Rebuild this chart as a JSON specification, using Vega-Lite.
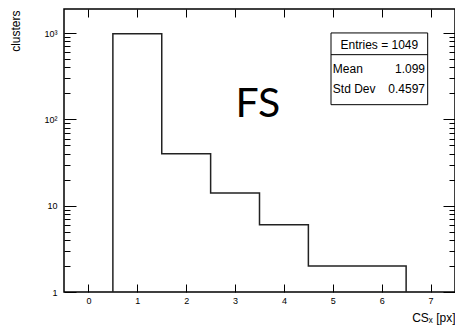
{
  "$schema": "https://vega.github.io/schema/vega-lite/v6.json",
  "width": 391,
  "height": 283,
  "autosize": "none",
  "padding": {"left": 64, "top": 9, "right": 0, "bottom": 39},
  "background": "white",
  "config": {
    "view": {"stroke": "black", "strokeWidth": 1.5},
    "font": "Liberation Sans",
    "axis": {"domain": false, "grid": false, "tickColor": "black", "tickWidth": 1, "labelColor": "black", "titleColor": "black", "labelFont": "Liberation Sans", "titleFont": "Liberation Sans", "titleFontWeight": "normal"}
  },
  "datasets": {
    "hist": [
      {"k": 0, "edge": 0.5, "count": 1},
      {"k": 1, "edge": 0.5, "count": 985},
      {"k": 2, "edge": 1.5, "count": 40},
      {"k": 3, "edge": 2.5, "count": 14},
      {"k": 4, "edge": 3.5, "count": 6},
      {"k": 5, "edge": 4.5, "count": 2},
      {"k": 6, "edge": 5.5, "count": 2},
      {"k": 7, "edge": 6.5, "count": 1}
    ],
    "stats": [{"entries": "Entries = 1049", "mean": "1.099", "stddev": "0.4597", "label": "FS"}]
  },
  "layer": [
    {
      "data": {"name": "hist"},
      "mark": {"type": "line", "interpolate": "step-after", "color": "#222", "strokeWidth": 1.5},
      "encoding": {
        "x": {"field": "edge", "type": "quantitative",
          "scale": {"domain": [-0.5, 7.5], "nice": false, "zero": false},
          "axis": {"orient": "bottom", "values": [0, 1, 2, 3, 4, 5, 6, 7], "ticks": false, "labelFontSize": 9, "labelPadding": 4,
            "title": "CSₓ [px]", "titleFontSize": 12, "titleAlign": "right", "titleX": 391, "titleY": 29, "titleBaseline": "alphabetic", "titleAnchor": "end"}},
        "y": {"field": "count", "type": "quantitative",
          "scale": {"type": "log", "domain": [1, 1900], "nice": false},
          "axis": {"orient": "left",
            "values": [1, 10, 100, 1000],
            "tickSize": -12,
            "labelExpr": "datum.value == 1000 ? '10³' : datum.value == 100 ? '10²' : datum.value == 10 ? '10' : datum.value == 1 ? '1' : ''",
            "labelFontSize": 9, "labelPadding": 19, "labelOverlap": false,
            "title": "clusters", "titleFontSize": 12, "titleAngle": -90, "titleAlign": "right", "titleBaseline": "middle", "titleX": -49, "titleY": 1}},
        "order": {"field": "k"}
      }
    },
    {
      "data": {"name": "stats"},
      "mark": {"type": "rect", "fill": "white", "stroke": "black", "strokeWidth": 1},
      "encoding": {
        "x": {"datum": 4.963, "type": "quantitative",
          "axis": {"orient": "top", "values": [0, 1, 2, 3, 4, 5, 6, 7], "tickSize": -8, "labels": false, "title": null}},
        "x2": {"datum": 6.941},
        "y": {"datum": 1003, "type": "quantitative",
          "axis": {"orient": "right",
            "values": [1, 10, 100, 1000],
            "tickSize": -12,
            "labels": false, "title": null}},
        "y2": {"datum": 148}
      }
    },
    {
      "data": {"name": "stats"},
      "mark": {"type": "rule", "color": "black", "strokeWidth": 1},
      "encoding": {
        "x": {"datum": 4.963, "type": "quantitative",
          "axis": {"orient": "bottom", "values": [0, 1, 2, 3, 4, 5, 6, 7], "tickSize": -8, "labels": false, "title": null}},
        "x2": {"datum": 6.941},
        "y": {"datum": 562, "type": "quantitative", "axis": {"orient": "left", "values": [2, 3, 4, 5, 6, 7, 8, 9, 20, 30, 40, 50, 60, 70, 80, 90, 200, 300, 400, 500, 600, 700, 800, 900], "tickSize": -6, "labels": false, "title": null}}
      }
    },
    {
      "data": {"name": "stats"},
      "mark": {"type": "text", "fontSize": 12, "align": "center", "baseline": "alphabetic", "color": "black"},
      "encoding": {
        "x": {"datum": 5.952, "type": "quantitative", "axis": null},
        "y": {"datum": 659, "type": "quantitative", "axis": {"orient": "right", "values": [2, 3, 4, 5, 6, 7, 8, 9, 20, 30, 40, 50, 60, 70, 80, 90, 200, 300, 400, 500, 600, 700, 800, 900], "tickSize": -6, "labels": false, "title": null}},
        "text": {"field": "entries"}
      }
    },
    {
      "data": {"name": "stats"},
      "mark": {"type": "text", "fontSize": 12, "align": "left", "baseline": "alphabetic", "color": "black"},
      "encoding": {
        "x": {"datum": 5.0, "type": "quantitative", "axis": null},
        "y": {"datum": 345, "type": "quantitative", "axis": null},
        "text": {"value": "Mean"}
      }
    },
    {
      "data": {"name": "stats"},
      "mark": {"type": "text", "fontSize": 12, "align": "right", "baseline": "alphabetic", "color": "black"},
      "encoding": {
        "x": {"datum": 6.886, "type": "quantitative", "axis": null},
        "y": {"datum": 345, "type": "quantitative", "axis": null},
        "text": {"field": "mean"}
      }
    },
    {
      "data": {"name": "stats"},
      "mark": {"type": "text", "fontSize": 12, "align": "left", "baseline": "alphabetic", "color": "black"},
      "encoding": {
        "x": {"datum": 5.0, "type": "quantitative", "axis": null},
        "y": {"datum": 202, "type": "quantitative", "axis": null},
        "text": {"value": "Std Dev"}
      }
    },
    {
      "data": {"name": "stats"},
      "mark": {"type": "text", "fontSize": 12, "align": "right", "baseline": "alphabetic", "color": "black"},
      "encoding": {
        "x": {"datum": 6.886, "type": "quantitative", "axis": null},
        "y": {"datum": 202, "type": "quantitative", "axis": null},
        "text": {"field": "stddev"}
      }
    },
    {
      "data": {"name": "stats"},
      "mark": {"type": "text", "font": "Lato", "fontSize": 41, "align": "center", "baseline": "alphabetic", "color": "black"},
      "encoding": {
        "x": {"datum": 3.469, "type": "quantitative", "axis": null},
        "y": {"datum": 106.7, "type": "quantitative", "axis": null},
        "text": {"field": "label"}
      }
    }
  ],
  "resolve": {"axis": {"x": "independent", "y": "independent"}}
}
